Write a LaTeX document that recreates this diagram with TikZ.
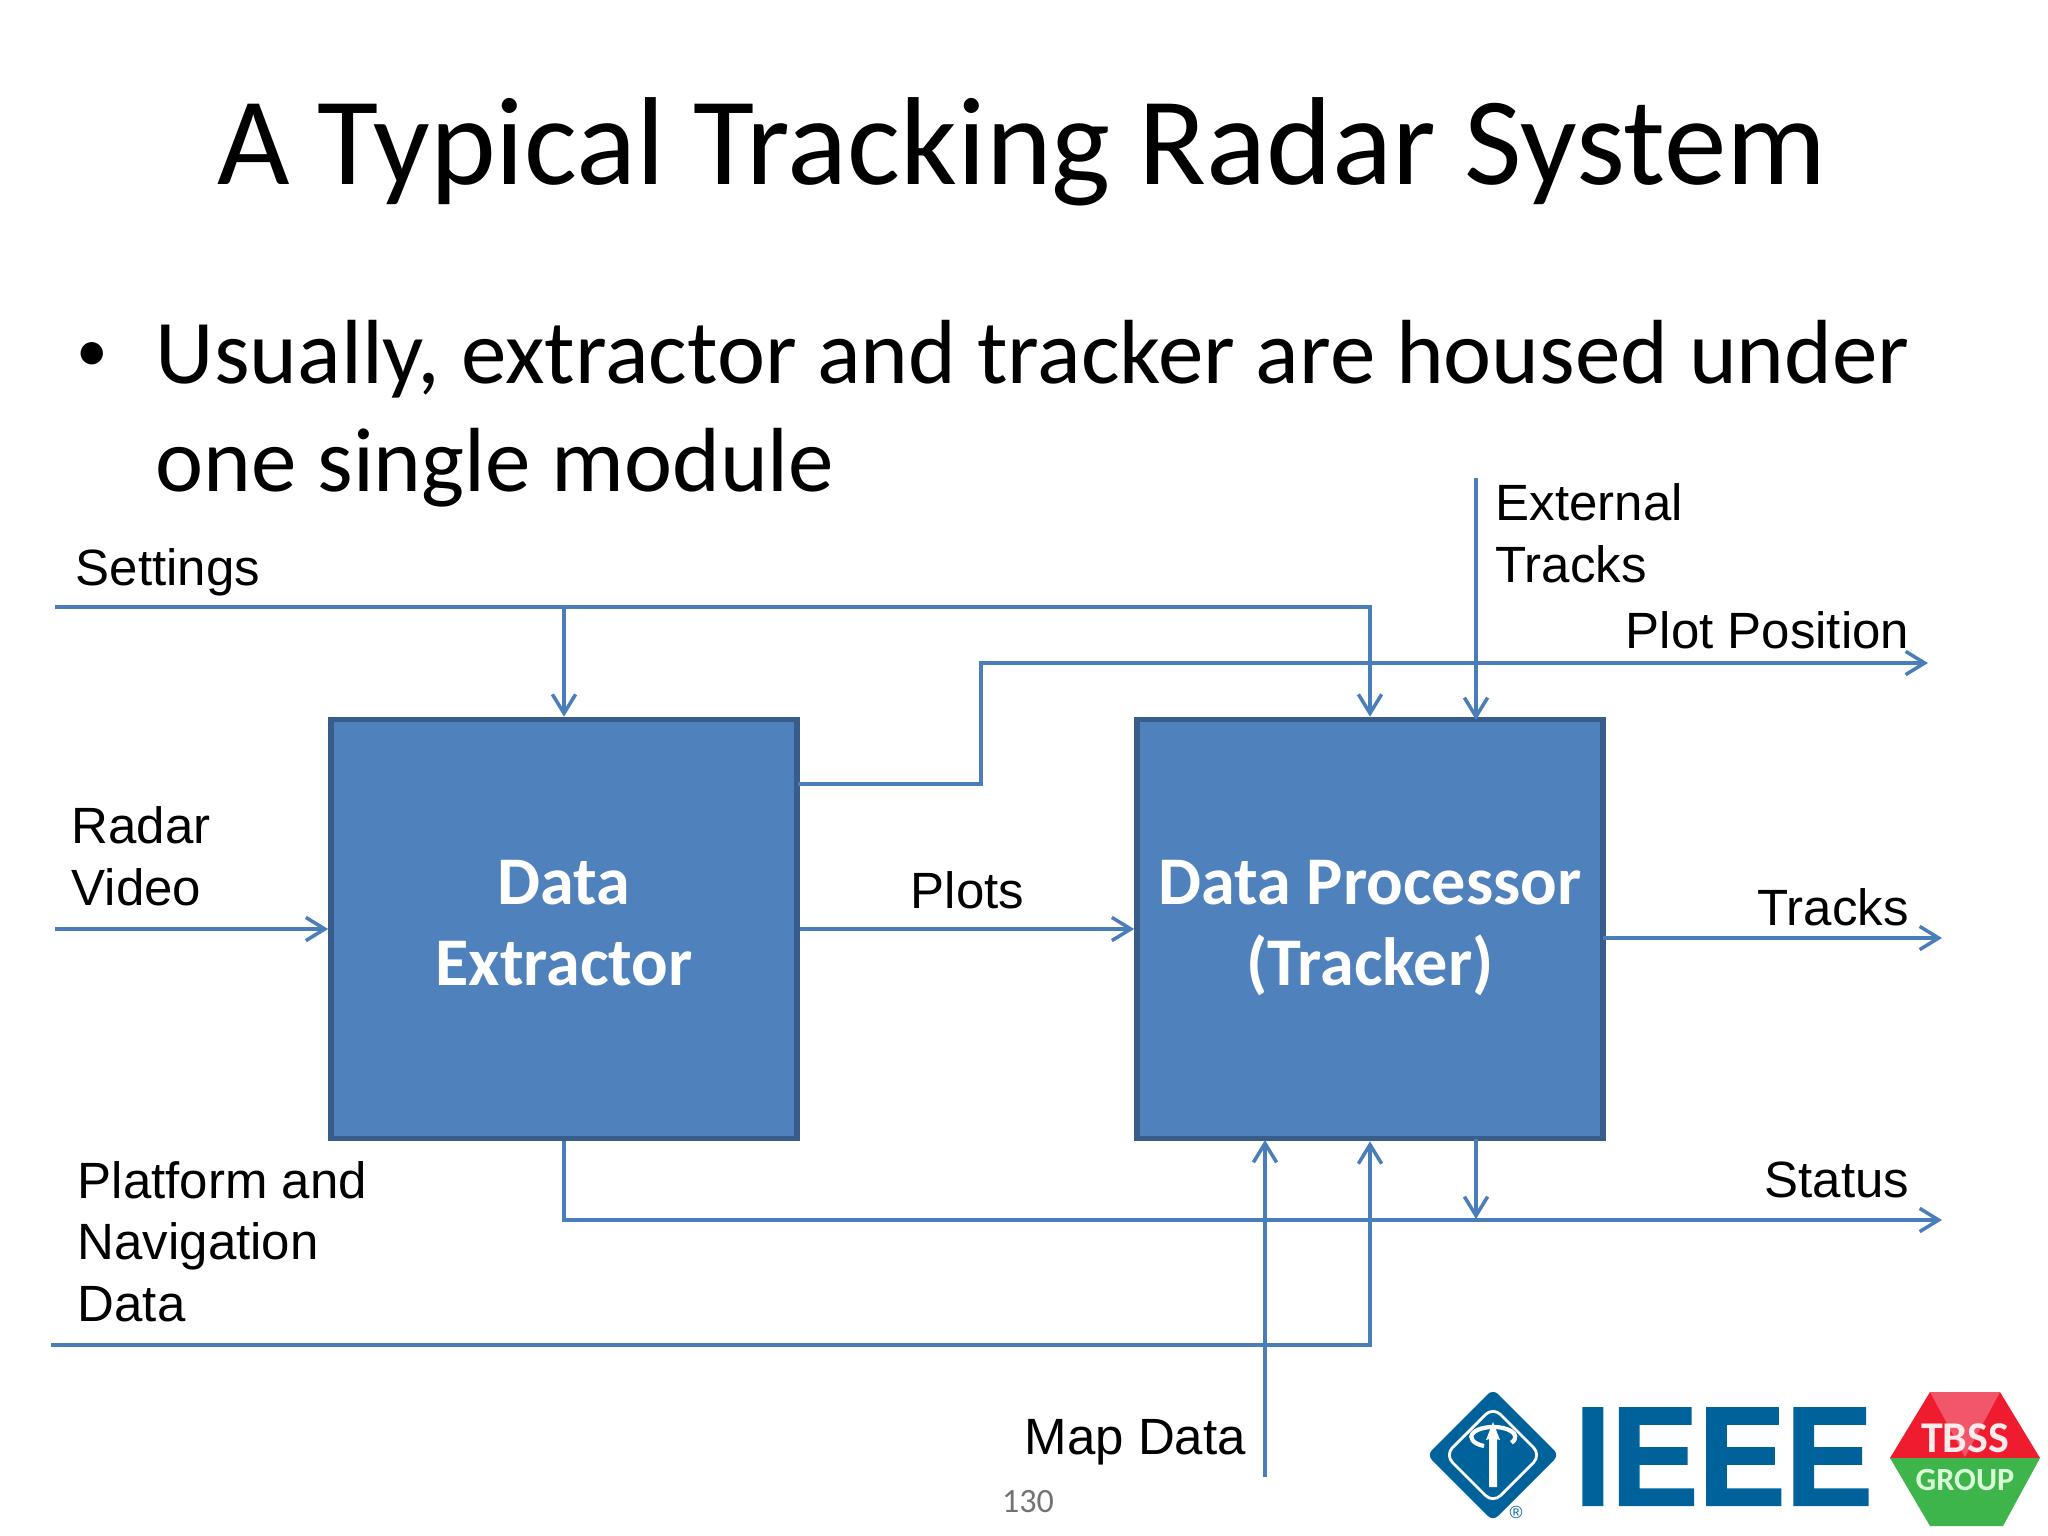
\documentclass[tikz,border=0pt]{standalone}
\usepackage{fontspec}
\setmainfont{Liberation Sans}
\newfontfamily\slidefont{Carlito}
\newfontfamily\logofont[FakeBold=1.5]{Liberation Sans Bold}
\usetikzlibrary{arrows.meta}

\definecolor{linkblue}{HTML}{4A7EBB}
\definecolor{boxblue}{HTML}{4F81BD}
\definecolor{boxedge}{HTML}{385D8A}
\definecolor{ieeeblue}{HTML}{00629B}
\definecolor{tbssred}{HTML}{EE1C2E}
\definecolor{tbsspink}{HTML}{F2566A}
\definecolor{tbssgreen}{HTML}{3DB54A}

\begin{document}
\begin{tikzpicture}
[x=.01cm, y=-.01cm,
 block/.style={draw=boxedge, fill=boxblue, line width=1.6pt, minimum width=466*.01cm, minimum height=419*.01cm, inner sep=0pt, align=center, text=white, font=\slidefont\bfseries\fontsize{19.4}{23}\selectfont},
 link/.style={draw=linkblue, line width=1pt},
 flow/.style={link, -{Straight Barb[length=5.4pt,width=6.6pt,line width=1pt]}},
 signal/.style={anchor=base west, inner sep=0pt, align=left, font=\fontsize{14.5}{17.4}\selectfont},
 title/.style={anchor=base, inner sep=0pt, font=\slidefont\fontsize{35.6}{40}\selectfont},
 bullet/.style={anchor=base west, inner sep=0pt, font=\slidefont\fontsize{25.9}{30}\selectfont}]
\useasboundingbox (0,0) rectangle (2048,1536);

\node[title] (heading) at (1022,184) {A Typical Tracking Radar System};
\node[anchor=base west, inner sep=0pt, font=\slidefont\fontsize{18}{20}\selectfont] (dot) at (76,371) {•};
\node[bullet] (line1) at (155,383) {Usually, extractor and tracker are housed under};
\node[bullet] (line2) at (155,491) {one single module};

\node[block] (extractor) at (564,929) {Data\strut\\Extractor\strut};
\node[block] (processor) at (1370,929) {Data Processor\strut\\(Tracker)\strut};

% free ends and corners
\coordinate (settings) at (55,607);
\coordinate (corner) at (1370,607);
\coordinate (branch) at (564,607);
\coordinate (external) at (1476,478);
\coordinate (extin) at (1476,720);
\coordinate (plotout) at (1928,663);
\coordinate (plotstart) at (798,784);
\coordinate (plotup) at (981,784);
\coordinate (plotover) at (981,663);
\coordinate (video) at (55,929);
\coordinate (tracks) at (1942,938);
\coordinate (tracksstart) at (1603,938);
\coordinate (status) at (1942,1220);
\coordinate (statusdown) at (564,1220);
\coordinate (procdown) at (1476,1139);
\coordinate (procstatus) at (1476,1219);
\coordinate (platform) at (51,1345);
\coordinate (platturn) at (1370,1345);
\coordinate (mapdata) at (1265,1477);
\coordinate (mapin) at (1265,1140);

\draw[flow] (settings) -- (corner) -- (processor.north);
\draw[flow] (branch) -- (extractor.north);
\draw[flow] (plotstart) -- (plotup) -- (plotover) -- (plotout);
\foreach \from/\to in {external/extin,video/extractor,extractor/processor,tracksstart/tracks,procdown/procstatus,mapdata/mapin}
	\draw[flow] (\from) -- (\to);
\draw[flow] (extractor.south) -- (statusdown) -- (status);
\draw[flow] (platform) -- (platturn) -- (processor.south);

\node[signal] (lsettings) at (75,585) {Settings};
\node[signal] (lexternal) at (1495,582) {External\\Tracks};
\node[signal] (lplot) at (1625,648) {Plot Position};
\node[signal] (lvideo) at (71,905) {Radar\\Video};
\node[signal] (lplots) at (910,908) {Plots};
\node[signal] (ltracks) at (1757,925) {Tracks};
\node[signal] (lstatus) at (1764,1197) {Status};
\node[signal] (lplatform) at (77,1321) {Platform and\\Navigation\\Data};
\node[signal] (lmap) at (1024,1454) {Map Data};

\node[anchor=base, inner sep=0pt, text=black!55, font=\slidefont\fontsize{9.7}{11}\selectfont] (pageno) at (1028,1512) {130};

% logo
\fill[ieeeblue, rounded corners=2pt] (1493,1389) -- (1559,1455) -- (1493,1521) -- (1427,1455) -- cycle;
\draw[white, line width=.8pt, rounded corners=3pt] (1493,1407) -- (1541,1455) -- (1493,1503) -- (1445,1455) -- cycle;
\fill[white] (1493,1422) -- (1486,1440) -- (1489,1439) -- (1489,1487) -- (1497,1487) -- (1497,1439) -- (1500,1440) -- cycle;
\draw[white, line width=1.2pt] (1484,1446) arc[start angle=115, end angle=395, x radius=22, y radius=10];
\node[inner sep=0pt, text=ieeeblue, font=\fontsize{5}{5}\selectfont] (regmark) at (1516,1512) {®};
\node[anchor=base west, inner sep=0pt, xscale=.93, text=ieeeblue, font=\logofont\fontsize{40}{42}\selectfont] (ieee) at (1574,1505) {IEEE};

\fill[tbssred] (1930,1392) -- (2000,1392) -- (2040,1458) -- (1890,1458) -- cycle;
\fill[tbsspink] (1930,1392) -- (2000,1392) -- (1965,1457) -- cycle;
\fill[tbssgreen] (1890,1458) -- (2040,1458) -- (2003,1526) -- (1930,1526) -- cycle;
\node[inner sep=0pt, text=white!92!red, font=\slidefont\bfseries\fontsize{12.5}{14}\selectfont] (tbss) at (1965,1438) {TBSS};
\node[inner sep=0pt, text=white!85!green, font=\slidefont\bfseries\fontsize{9.2}{11}\selectfont] (group) at (1965,1480) {GROUP};

\end{tikzpicture}
\end{document}
